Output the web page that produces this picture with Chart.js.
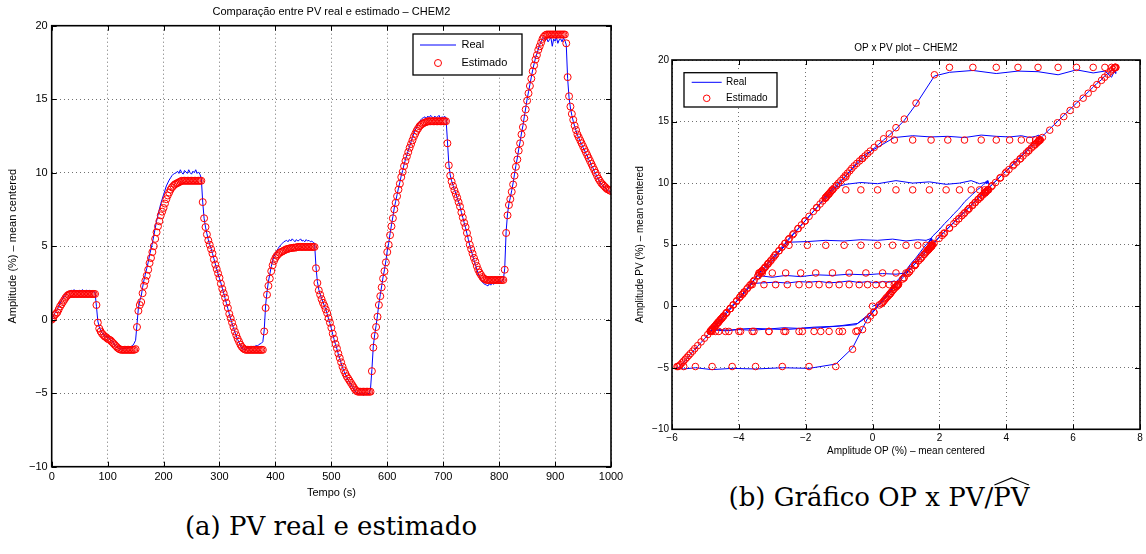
<!DOCTYPE html>
<html lang="pt-BR">
<head>
<meta charset="utf-8">
<title>PV real e estimado - CHEM2</title>
<script src="https://cdn.jsdelivr.net/npm/chart.js@4.4.1/dist/chart.umd.min.js"></script>
<style>
    body { margin: 0; background: #fff; width: 1146px; height: 554px; position: relative; overflow: hidden; }
    #graficoA { position: absolute; left: 0; top: 0; }
    #graficoB { position: absolute; left: 620px; top: 30px; }
    .legenda {
        position: absolute;
        font-family: "DejaVu Serif", "Liberation Serif", serif;
        font-size: 26px;
        line-height: 30px;
        color: #000;
        white-space: nowrap;
        transform: translateX(-50%);
    }
    #legendaA { left: 331px; top: 511px; }
    #legendaB { left: 879px; top: 482px; }
    .chapeu { position: relative; display: inline-block; }
    .chapeu svg { position: absolute; left: 0; top: -5px; width: 100%; height: 9px; overflow: visible; }
</style>
</head>
<body>
<canvas id="graficoA" width="640" height="505"></canvas>
<canvas id="graficoB" width="526" height="432"></canvas>
<div id="legendaA" class="legenda">(a) PV real e estimado</div>
<div id="legendaB" class="legenda">(b) Gráfico OP x PV/<span class="chapeu">PV<svg viewBox="0 0 40 10" preserveAspectRatio="none"><polyline points="1,9 20,1 39,9" fill="none" stroke="#000" stroke-width="1.2"/></svg></span></div>

<script>
const PASSO = 2.5; // segundos entre amostras

// PV estimado (%), uma amostra a cada 2,5 s de 0 a 1000 s
const pvEstimado = [
    0, 0.1, 0.3, 0.4, 0.5, 0.7, 0.9, 1.05, 1.2, 1.35,
    1.5, 1.62, 1.7, 1.74, 1.75, 1.75, 1.75, 1.75, 1.75, 1.75,
    1.75, 1.75, 1.75, 1.75, 1.75, 1.75, 1.75, 1.75, 1.75, 1.75,
    1.75, 1.75, 1.0, -0.2, -0.6, -0.8, -0.95, -1.05, -1.15, -1.2,
    -1.3, -1.35, -1.4, -1.5, -1.6, -1.7, -1.8, -1.9, -1.98, -2.03,
    -2.05, -2.05, -2.05, -2.05, -2.05, -2.05, -2.05, -2.05, -2.05, -2.05,
    -2.0, -0.5, 0.6, 1.0, 1.2, 1.8, 2.3, 2.65, 3.0, 3.4,
    3.85, 4.2, 4.6, 5.0, 5.5, 5.95, 6.35, 6.7, 7.1, 7.35,
    7.6, 7.9, 8.2, 8.45, 8.65, 8.85, 9.0, 9.1, 9.2, 9.25,
    9.3, 9.35, 9.4, 9.45, 9.45, 9.45, 9.45, 9.45, 9.45, 9.45,
    9.45, 9.45, 9.45, 9.45, 9.45, 9.45, 9.45, 9.45, 8.0, 6.9,
    6.3, 5.8, 5.4, 5.1, 4.8, 4.5, 4.1, 3.75, 3.45, 3.15,
    2.85, 2.45, 2.1, 1.8, 1.5, 1.15, 0.8, 0.4, 0.1, -0.2,
    -0.5, -0.8, -1.05, -1.3, -1.5, -1.7, -1.85, -1.95, -2.02, -2.05,
    -2.05, -2.05, -2.05, -2.05, -2.05, -2.05, -2.05, -2.05, -2.05, -2.05,
    -2.05, -2.05, -0.8, 0.8, 1.7, 2.3, 2.8, 3.3, 3.7, 4.0,
    4.2, 4.35, 4.45, 4.55, 4.6, 4.65, 4.7, 4.75, 4.8, 4.82,
    4.85, 4.87, 4.88, 4.9, 4.9, 4.92, 4.95, 4.95, 4.95, 4.95,
    4.95, 4.95, 4.95, 4.95, 4.95, 4.95, 4.95, 4.95, 4.95, 3.5,
    2.5, 2.0, 1.7, 1.4, 1.15, 0.95, 0.7, 0.45, 0.1, -0.2,
    -0.55, -0.95, -1.3, -1.65, -1.95, -2.3, -2.6, -2.9, -3.2, -3.45,
    -3.65, -3.85, -4.0, -4.15, -4.3, -4.45, -4.6, -4.75, -4.85, -4.9,
    -4.9, -4.9, -4.9, -4.9, -4.9, -4.9, -4.9, -4.9, -4.9, -3.5,
    -1.9, -1.1, -0.5, 0.2, 1.0, 1.6, 2.2, 2.8, 3.3, 3.9,
    4.6, 5.1, 5.75, 6.35, 6.9, 7.5, 7.95, 8.4, 8.85, 9.25,
    9.7, 10.05, 10.45, 10.8, 11.1, 11.4, 11.7, 11.95, 12.2, 12.45,
    12.65, 12.85, 13.0, 13.15, 13.25, 13.32, 13.38, 13.42, 13.45, 13.5,
    13.5, 13.5, 13.5, 13.5, 13.5, 13.5, 13.5, 13.5, 13.5, 13.5,
    13.5, 13.5, 13.5, 12.0, 10.5, 9.8, 9.4, 9.1, 8.8, 8.55,
    8.3, 8.0, 7.7, 7.3, 6.95, 6.6, 6.3, 5.9, 5.5, 5.1,
    4.8, 4.5, 4.2, 3.95, 3.65, 3.4, 3.2, 3.05, 2.9, 2.8,
    2.75, 2.7, 2.7, 2.7, 2.7, 2.7, 2.7, 2.7, 2.7, 2.7,
    2.7, 2.7, 2.7, 2.7, 3.4, 5.9, 7.1, 7.8, 8.2, 8.7,
    9.2, 9.8, 10.4, 10.9, 11.5, 12.0, 12.6, 13.1, 13.7, 14.3,
    14.9, 15.4, 15.9, 16.4, 16.9, 17.3, 17.7, 18.0, 18.35, 18.6,
    18.85, 19.1, 19.25, 19.35, 19.4, 19.4, 19.4, 19.4, 19.4, 19.4,
    19.4, 19.4, 19.4, 19.4, 19.4, 19.4, 19.4, 19.4, 18.8, 16.5,
    15.2, 14.5, 14.0, 13.6, 13.2, 12.9, 12.6, 12.4, 12.2, 12.0,
    11.8, 11.6, 11.4, 11.2, 11.0, 10.8, 10.6, 10.4, 10.2, 10.0,
    9.8, 9.6, 9.45, 9.3, 9.2, 9.1, 9.0, 8.9, 8.85, 8.8,
    8.75
];

// PV real (%), mesmas amostras
const pvReal = [
    0, 0.2, 0.4, 0.55, 0.7, 0.9, 1.1, 1.3, 1.45, 1.6,
    1.7, 1.85, 1.9, 1.95, 2.0, 1.9, 2.05, 1.95, 2.0, 1.9,
    2.0, 1.92, 2.05, 1.95, 1.9, 2.02, 1.95, 2.0, 1.88, 1.95,
    1.9, 1.85, 0.9, -0.1, -0.5, -0.7, -0.9, -1.0, -1.1, -1.15,
    -1.2, -1.3, -1.35, -1.45, -1.55, -1.7, -1.8, -1.9, -1.95, -2.0,
    -2.0, -1.95, -2.0, -1.9, -1.95, -1.85, -1.9, -1.8, -1.75, -1.6,
    -1.4, -0.3, 0.8, 1.3, 1.6, 2.2, 2.7, 3.1, 3.5, 3.9,
    4.4, 4.8, 5.2, 5.7, 6.2, 6.7, 7.1, 7.5, 7.9, 8.2,
    8.5, 8.8, 9.1, 9.3, 9.5, 9.65, 9.8, 9.9, 9.95, 10.0,
    10.1, 9.95, 10.2, 10.0, 9.9, 10.15, 10.05, 9.95, 10.2, 10.0,
    9.9, 10.1, 10.0, 10.2, 9.95, 10.05, 9.9, 9.6, 8.0, 6.9,
    6.3, 5.85, 5.45, 5.1, 4.85, 4.5, 4.15, 3.8, 3.45, 3.1,
    2.8, 2.5, 2.15, 1.8, 1.45, 1.1, 0.75, 0.4, 0.05, -0.25,
    -0.55, -0.85, -1.1, -1.35, -1.55, -1.75, -1.9, -2.0, -2.05, -2.0,
    -1.95, -1.9, -1.95, -1.85, -1.8, -1.85, -1.75, -1.8, -1.7, -1.65,
    -1.6, -1.5, -0.7, 1.0, 1.9, 2.6, 3.1, 3.6, 4.0, 4.3,
    4.5, 4.7, 4.85, 5.0, 5.1, 5.2, 5.3, 5.35, 5.4, 5.3,
    5.45, 5.35, 5.5, 5.4, 5.3, 5.45, 5.35, 5.4, 5.5, 5.35,
    5.4, 5.3, 5.45, 5.35, 5.4, 5.3, 5.35, 5.25, 5.2, 3.6,
    2.6, 2.05, 1.75, 1.45, 1.2, 0.95, 0.7, 0.4, 0.05, -0.25,
    -0.6, -1.0, -1.35, -1.7, -2.0, -2.35, -2.65, -2.95, -3.25, -3.5,
    -3.7, -3.9, -4.1, -4.25, -4.4, -4.55, -4.7, -4.85, -4.95, -5.05,
    -5.0, -5.1, -5.0, -5.15, -5.05, -5.1, -5.0, -5.05, -4.7, -3.4,
    -1.8, -1.0, -0.4, 0.3, 1.1, 1.7, 2.3, 2.9, 3.4, 4.0,
    4.7, 5.2, 5.85, 6.45, 7.0, 7.6, 8.05, 8.5, 8.95, 9.35,
    9.8, 10.15, 10.55, 10.9, 11.2, 11.5, 11.8, 12.1, 12.4, 12.65,
    12.9, 13.1, 13.3, 13.45, 13.6, 13.7, 13.75, 13.8, 13.7, 13.85,
    13.75, 13.9, 13.8, 13.7, 13.85, 13.75, 13.8, 13.9, 13.7, 13.8,
    13.75, 13.85, 13.7, 12.2, 10.6, 9.85, 9.45, 9.15, 8.85, 8.6,
    8.3, 8.0, 7.7, 7.3, 6.95, 6.6, 6.25, 5.85, 5.45, 5.05,
    4.7, 4.4, 4.05, 3.75, 3.45, 3.15, 2.9, 2.7, 2.55, 2.45,
    2.4, 2.35, 2.3, 2.45, 2.35, 2.5, 2.4, 2.55, 2.5, 2.6,
    2.55, 2.65, 2.6, 2.7, 3.5, 6.0, 7.2, 7.9, 8.3, 8.8,
    9.3, 9.9, 10.5, 11.0, 11.6, 12.1, 12.7, 13.2, 13.8, 14.4,
    15.0, 15.5, 16.0, 16.5, 17.0, 17.4, 17.8, 18.1, 18.4, 18.7,
    18.9, 19.1, 19.2, 19.0, 19.15, 18.9, 19.05, 19.2, 18.6, 19.1,
    18.95, 19.2, 18.8, 19.05, 19.1, 18.9, 19.15, 19.0, 18.7, 16.4,
    15.1, 14.4, 13.9, 13.5, 13.15, 12.85, 12.55, 12.35, 12.1, 11.95,
    11.7, 11.55, 11.3, 11.15, 10.9, 10.75, 10.5, 10.35, 10.1, 9.95,
    9.7, 9.55, 9.4, 9.2, 9.15, 9.0, 8.95, 8.8, 8.8, 8.7,
    8.7
];

// OP (%), mesmas amostras
const opReal = [
    0.0, 0.2, 0.3, 0.33, 0.36, 0.42, 0.49, 0.54, 0.58, 0.63,
    0.68, 0.72, 0.74, 0.76, 0.77, 0.75, 0.65, 0.5, 0.3, 0.1,
    -0.15, -0.4, -0.7, -1.0, -1.3, -1.6, -1.9, -2.2, -2.55, -2.9,
    -3.25, -3.6, -3.88, -4.26, -4.39, -4.46, -4.5, -4.54, -4.57, -4.58,
    -4.62, -4.63, -4.65, -4.68, -4.71, -4.74, -4.78, -4.81, -4.83, -4.85,
    -4.85, -4.7, -4.4, -4.0, -3.6, -3.1, -2.6, -2.1, -1.55, -1.0,
    -0.45, 0.04, 0.39, 0.52, 0.58, 0.78, 0.94, 1.05, 1.16, 1.29,
    1.43, 1.54, 1.67, 1.8, 1.99, 2.15, 2.3, 2.43, 2.58, 2.67,
    2.76, 2.88, 2.99, 3.08, 3.15, 3.23, 3.28, 3.32, 3.36, 3.38,
    3.39, 3.41, 3.43, 3.45, 3.47, 3.45, 3.35, 3.2, 2.95, 2.6,
    2.2, 1.7, 1.2, 0.7, 0.15, -0.35, -0.8, -1.2, -1.67, -2.03,
    -2.23, -2.39, -2.52, -2.62, -2.71, -2.8, -2.93, -3.03, -3.13, -3.22,
    -3.31, -3.43, -3.54, -3.63, -3.73, -3.84, -3.95, -4.07, -4.17, -4.26,
    -4.36, -4.45, -4.53, -4.61, -4.68, -4.74, -4.79, -4.82, -4.84, -4.86,
    -4.8, -4.6, -4.3, -3.95, -3.55, -3.1, -2.65, -2.2, -1.75, -1.3,
    -0.9, -0.5, -0.06, 0.46, 0.74, 0.94, 1.1, 1.26, 1.38, 1.48,
    1.54, 1.59, 1.62, 1.66, 1.67, 1.69, 1.7, 1.72, 1.74, 1.74,
    1.75, 1.76, 1.76, 1.77, 1.77, 1.77, 1.78, 1.78, 1.75, 1.6,
    1.35, 1.0, 0.6, 0.15, -0.35, -0.85, -1.4, -1.95, -2.5, -3.11,
    -3.42, -3.57, -3.67, -3.76, -3.84, -3.9, -3.98, -4.06, -4.17, -4.26,
    -4.37, -4.5, -4.61, -4.72, -4.82, -4.93, -5.03, -5.13, -5.23, -5.32,
    -5.38, -5.45, -5.5, -5.55, -5.6, -5.65, -5.7, -5.75, -5.78, -5.82,
    -5.85, -5.65, -5.3, -4.8, -4.2, -3.5, -2.7, -1.9, -1.1, -0.6,
    -0.3, -0.15, 0.04, 0.26, 0.52, 0.71, 0.9, 1.1, 1.26, 1.45,
    1.67, 1.84, 2.08, 2.3, 2.5, 2.73, 2.89, 3.06, 3.23, 3.38,
    3.55, 3.68, 3.83, 3.97, 4.08, 4.2, 4.31, 4.41, 4.5, 4.6,
    4.68, 4.75, 4.81, 4.87, 4.91, 4.93, 4.96, 4.97, 4.98, 5.0,
    5.02, 4.98, 4.88, 4.7, 4.45, 4.1, 3.7, 3.25, 2.75, 2.25,
    1.75, 1.2, 0.65, -0.3, -0.8, -1.08, -1.22, -1.31, -1.41, -1.49,
    -1.57, -1.67, -1.77, -1.9, -2.01, -2.13, -2.23, -2.36, -2.49, -2.62,
    -2.71, -2.8, -2.9, -2.97, -3.06, -3.14, -3.2, -3.25, -3.3, -3.33,
    -3.34, -3.38, -3.4, -3.3, -3.0, -2.6, -2.15, -1.7, -1.2, -0.7,
    -0.2, 0.3, 0.7, 1.0, 1.29, 2.13, 2.58, 2.84, 2.99, 3.17,
    3.36, 3.58, 3.81, 4.0, 4.23, 4.43, 4.66, 4.85, 5.08, 5.3,
    5.53, 5.72, 5.91, 6.1, 6.3, 6.45, 6.6, 6.71, 6.85, 6.94,
    7.04, 7.13, 7.19, 7.23, 7.25, 7.27, 7.28, 7.25, 7.15, 6.95,
    6.6, 6.1, 5.55, 4.95, 4.35, 3.7, 3.0, 2.3, 1.85, 1.3,
    0.95, 0.7, 0.5, 0.33, 0.18, 0.05, -0.07, -0.15, -0.23, -0.31,
    -0.39, -0.47, -0.55, -0.62, -0.68, -0.75, -0.82, -0.88, -0.95, -1.02,
    -1.08, -1.15, -1.2, -1.25, -1.28, -1.31, -1.35, -1.38, -1.39, -1.41,
    -1.42
];

const AZUL = '#0000ff';
const VERMELHO = '#ff0000';

Chart.defaults.font.family = '"Liberation Sans", Arial, sans-serif';
Chart.defaults.color = '#000';

const tempo = pvEstimado.map((_, i) => i * PASSO);

// caixa do eixo com os tracinhos internos, estilo MATLAB
const moldura = {
    id: 'moldura',
    afterDatasetsDraw(chart) {
        const { ctx, chartArea: a, scales: { x, y } } = chart;
        ctx.save();
        ctx.strokeStyle = '#000';
        ctx.lineWidth = 1;
        ctx.beginPath();
        x.ticks.forEach(t => {
            const px = Math.round(x.getPixelForValue(t.value)) + 0.5;
            ctx.moveTo(px, a.bottom); ctx.lineTo(px, a.bottom - 5);
            ctx.moveTo(px, a.top); ctx.lineTo(px, a.top + 5);
        });
        y.ticks.forEach(t => {
            const py = Math.round(y.getPixelForValue(t.value)) + 0.5;
            ctx.moveTo(a.left, py); ctx.lineTo(a.left + 5, py);
            ctx.moveTo(a.right, py); ctx.lineTo(a.right - 5, py);
        });
        ctx.stroke();
        ctx.lineWidth = 1.6;
        ctx.strokeRect(a.left, a.top, a.right - a.left, a.bottom - a.top);
        ctx.restore();
    }
};

// legenda em caixa dentro do gráfico
const legendaMatlab = {
    id: 'legendaMatlab',
    afterDraw(chart, args, o) {
        const ctx = chart.ctx;
        const [x, y, w, h] = o.caixa;
        const [real, estimado] = chart.data.datasets;
        ctx.save();
        ctx.fillStyle = '#fff';
        ctx.fillRect(x, y, w, h);
        ctx.strokeStyle = '#000';
        ctx.lineWidth = 1.3;
        ctx.strokeRect(x, y, w, h);

        ctx.strokeStyle = AZUL;
        ctx.lineWidth = 1;
        ctx.beginPath();
        ctx.moveTo(o.amostra[0], o.linhas[0]);
        ctx.lineTo(o.amostra[1], o.linhas[0]);
        ctx.stroke();

        ctx.strokeStyle = VERMELHO;
        ctx.beginPath();
        ctx.arc((o.amostra[0] + o.amostra[1]) / 2, o.linhas[1], o.raio, 0, Math.PI * 2);
        ctx.stroke();

        ctx.fillStyle = '#000';
        ctx.font = o.fonte;
        ctx.textBaseline = 'middle';
        ctx.fillText(real.label, o.texto, o.linhas[0]);
        ctx.fillText(estimado.label, o.texto, o.linhas[1]);
        ctx.restore();
    }
};

function menos(v) {
    return String(v).replace('-', '\u2212');
}

function eixo(cfg) {
    return {
        type: 'linear',
        min: cfg.min,
        max: cfg.max,
        ticks: { stepSize: cfg.passo, font: { size: cfg.fonte }, color: '#000', padding: cfg.paddingTicks, callback: menos },
        grid: { color: 'rgba(0,0,0,0.7)', lineWidth: 0.8, drawTicks: false },
        border: { display: false, dash: [1, 3] },
        title: { display: true, text: cfg.titulo, font: { size: cfg.fonte }, color: '#000', padding: cfg.paddingTitulo },
        afterFit: s => {
            if (s.isHorizontal()) s.height = cfg.tamanho;
            else s.width = cfg.tamanho;
        }
    };
}

function opcoesBase(titulo, fonteTitulo, paddingTitulo, paddingDireita) {
    return {
        responsive: false,
        animation: false,
        devicePixelRatio: 1,
        events: [],
        layout: { padding: { left: 0, right: paddingDireita, top: 0, bottom: 0 } },
        plugins: {
            legend: { display: false },
            tooltip: { enabled: false },
            title: {
                display: true,
                text: titulo,
                fullSize: false,
                color: '#000',
                font: { size: fonteTitulo, weight: 'normal' },
                padding: paddingTitulo
            }
        }
    };
}

function renderSerieTemporal() {
    const opcoes = opcoesBase('Comparação entre PV real e estimado \u2013 CHEM2', 11, { top: 5, bottom: 7.5 }, 29);
    opcoes.plugins.legendaMatlab = {
        caixa: [413, 34, 109, 41],
        amostra: [420, 456],
        linhas: [45, 63],
        texto: 461.5,
        raio: 3.5,
        fonte: '11px "Liberation Sans", Arial, sans-serif'
    };
    opcoes.scales = {
        x: eixo({ min: 0, max: 1000, passo: 100, fonte: 11, paddingTicks: 4, titulo: 'Tempo (s)', paddingTitulo: { top: 2, bottom: 5.7 }, tamanho: 38.3 }),
        y: eixo({ min: -10, max: 20, passo: 5, fonte: 11, paddingTicks: 4, titulo: 'Amplitude (%) \u2013 mean centered', paddingTitulo: { top: 6.4, bottom: 0 }, tamanho: 51.7 })
    };

    new Chart(document.getElementById('graficoA'), {
        type: 'line',
        data: {
            datasets: [{
                label: 'Real',
                data: tempo.map((t, i) => ({ x: t, y: pvReal[i] })),
                borderColor: AZUL,
                borderWidth: 1,
                pointRadius: 0,
                order: 2
            }, {
                label: 'Estimado',
                data: tempo.map((t, i) => ({ x: t, y: pvEstimado[i] })),
                showLine: false,
                pointRadius: 3.5,
                pointBorderWidth: 1,
                pointBorderColor: VERMELHO,
                pointBackgroundColor: 'rgba(0,0,0,0)',
                order: 1
            }]
        },
        options: opcoes,
        plugins: [moldura, legendaMatlab]
    });
}

function renderOpPv() {
    const opcoes = opcoesBase('OP x PV plot \u2013 CHEM2', 10, { top: 12.3, bottom: 5.7 }, 6);
    opcoes.plugins.legendaMatlab = {
        caixa: [64, 42.7, 93, 34.3],
        amostra: [71.7, 101.7],
        linhas: [52.3, 68.3],
        texto: 106,
        raio: 3.3,
        fonte: '10px "Liberation Sans", Arial, sans-serif'
    };
    opcoes.scales = {
        x: eixo({ min: -6, max: 8, passo: 2, fonte: 10, paddingTicks: 3, titulo: 'Amplitude OP (%) \u2013 mean centered', paddingTitulo: { top: 2, bottom: 5 }, tamanho: 32.7 }),
        y: eixo({ min: -10, max: 20, passo: 5, fonte: 10, paddingTicks: 3, titulo: 'Amplitude PV (%) \u2013 mean centered', paddingTitulo: { top: 14, bottom: 0 }, tamanho: 52 })
    };

    new Chart(document.getElementById('graficoB'), {
        type: 'scatter',
        data: {
            datasets: [{
                label: 'Real',
                data: opReal.map((op, i) => ({ x: op, y: pvReal[i] })),
                showLine: true,
                borderColor: AZUL,
                borderWidth: 1,
                pointRadius: 0,
                order: 2
            }, {
                label: 'Estimado',
                data: opReal.map((op, i) => ({ x: op, y: pvEstimado[i] })),
                pointRadius: 3.3,
                pointBorderWidth: 1,
                pointBorderColor: VERMELHO,
                pointBackgroundColor: 'rgba(0,0,0,0)',
                order: 1
            }]
        },
        options: opcoes,
        plugins: [moldura, legendaMatlab]
    });
}

renderSerieTemporal();
renderOpPv();
</script>
</body>
</html>
